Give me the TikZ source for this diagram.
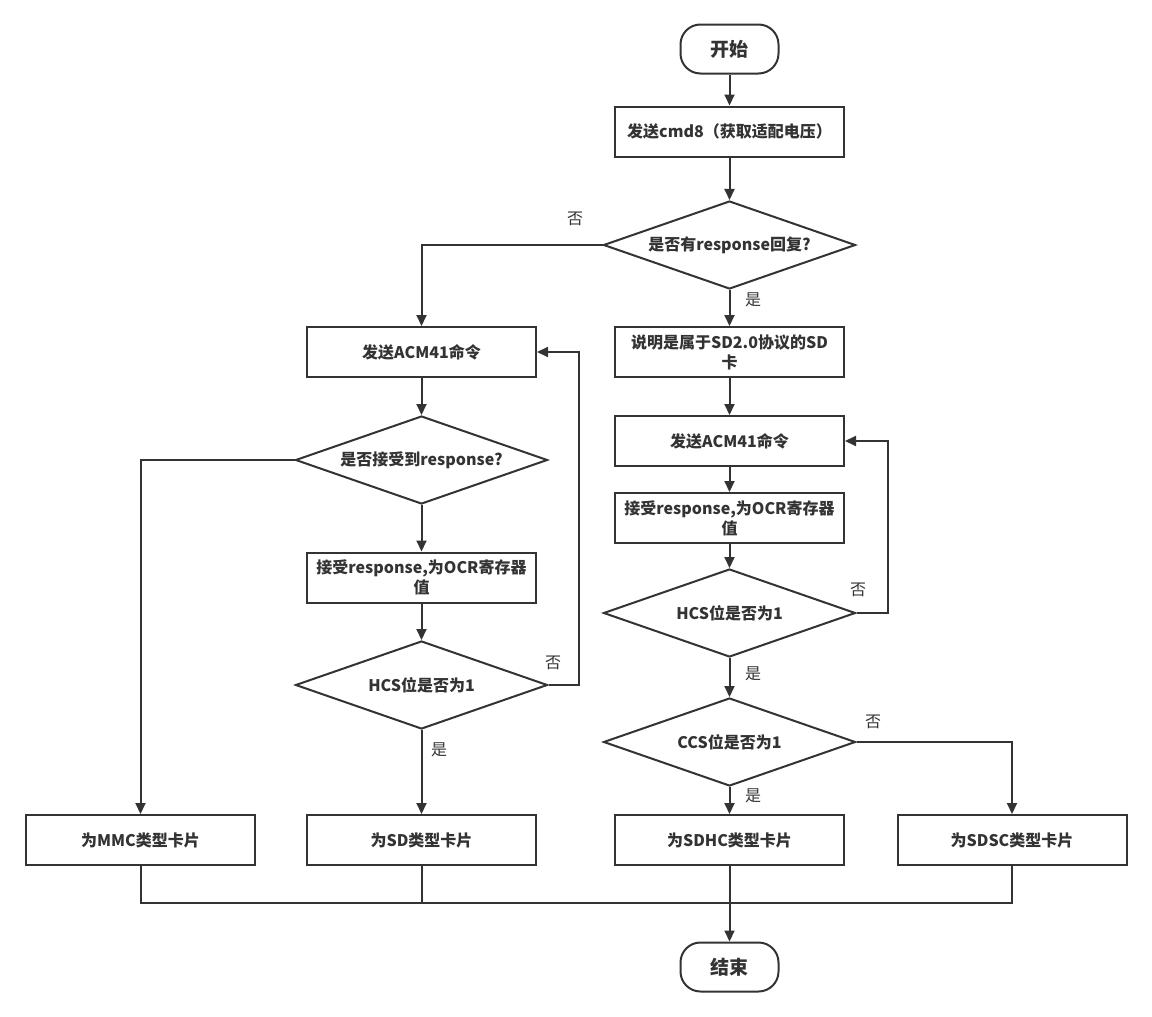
\documentclass[tikz,border=0pt]{standalone}
\usepackage{fontspec}
\newfontfamily\cjk{Noto Sans CJK SC}
\usetikzlibrary{shapes.geometric,arrows.meta}
\definecolor{linecol}{HTML}{333333}

\begin{document}
\begin{tikzpicture}
			[
				x=1pt, y=-1pt,
				box/.style={draw=linecol, line width=2pt, rectangle, minimum width=229pt, minimum height=50pt, inner sep=0pt, align=center, text=linecol, font=\cjk\bfseries\fontsize{16}{20}\selectfont},
				term/.style={box, rounded corners=20pt, minimum width=98pt, minimum height=49pt, font=\cjk\bfseries\fontsize{19}{22}\selectfont},
				decision/.style={box, diamond, aspect=2.86, minimum width=252pt, minimum height=88pt},
				lbl/.style={text=linecol, font=\cjk\fontsize{16}{18}\selectfont},
				arr/.style={draw=linecol, line width=2pt, -{Triangle[length=11pt,width=10pt]}},
				con/.style={draw=linecol, line width=2pt}
			]
			\useasboundingbox (0,0) rectangle (1152,1017);
			% Main column
			\node[term] (start) at (729.5,49) {开始};
			\node[box] (cmd) at (729.5,131.5) {发送cmd8（获取适配电压）};
			\node[decision] (resp) at (729.5,245) {是否有response回复?};
			\node[box] (sdtwo) at (729.5,352) {说明是属于SD2.0协议的SD\\卡};
			\node[box] (acmR) at (729.5,441) {发送ACM41命令};
			\node[box] (ocrR) at (729.5,518) {接受response,为OCR寄存器\\值};
			\node[decision] (hcsR) at (729.5,613) {HCS位是否为1};
			\node[decision] (ccs) at (729.5,742) {CCS位是否为1};
			% Left column
			\node[box] (acmL) at (421.5,352) {发送ACM41命令};
			\node[decision] (recv) at (421.5,460) {是否接受到response?};
			\node[box] (ocrL) at (421.5,577.5) {接受response,为OCR寄存器\\值};
			\node[decision] (hcsL) at (421.5,685) {HCS位是否为1};
			% Card types
			\node[box] (mmc) at (140.5,840) {为MMC类型卡片};
			\node[box] (sd) at (421.5,840) {为SD类型卡片};
			\node[box] (sdhc) at (729.5,840) {为SDHC类型卡片};
			\node[box] (sdsc) at (1012,840) {为SDSC类型卡片};
			\node[term] (end) at (729.5,967) {结束};
			\coordinate (merge) at (729.5,903);
			% Yes / no labels
			\node[lbl] (noResp) at (575,219) {否};
			\node[lbl] (yesResp) at (753,300) {是};
			\node[lbl] (noHcsL) at (553,663) {否};
			\node[lbl] (yesHcsL) at (439,750) {是};
			\node[lbl] (noHcsR) at (858,590) {否};
			\node[lbl] (yesHcsR) at (753,674) {是};
			\node[lbl] (noCcs) at (873,722) {否};
			\node[lbl] (yesCcs) at (753,796) {是};
			% Connectors
			\draw[arr] (start) -- (cmd);
			\draw[arr] (cmd) -- (resp);
			\draw[arr] (resp) -- (sdtwo);
			\draw[arr] (resp.west) -| (acmL);
			\draw[arr] (acmL) -- (recv);
			\draw[arr] (recv) -- (ocrL);
			\draw[arr] (ocrL) -- (hcsL);
			\draw[arr] (hcsL.east) -- ++(30,0) |- (acmL.east);
			\draw[arr] (recv.west) -| (mmc);
			\draw[arr] (hcsL) -- (sd);
			\draw[arr] (sdtwo) -- (acmR);
			\draw[arr] (acmR) -- (ocrR);
			\draw[arr] (ocrR) -- (hcsR);
			\draw[arr] (hcsR.east) -- ++(31,0) |- (acmR.east);
			\draw[arr] (hcsR) -- (ccs);
			\draw[arr] (ccs) -- (sdhc);
			\draw[arr] (ccs.east) -| (sdsc);
			% Merge into end
			\draw[con] (mmc.south) |- (merge) -| (sdsc.south);
			\draw[con] (sd.south) -- (sd.south |- merge);
			\draw[arr] (sdhc) -- (end);
		\end{tikzpicture}
\end{document}
